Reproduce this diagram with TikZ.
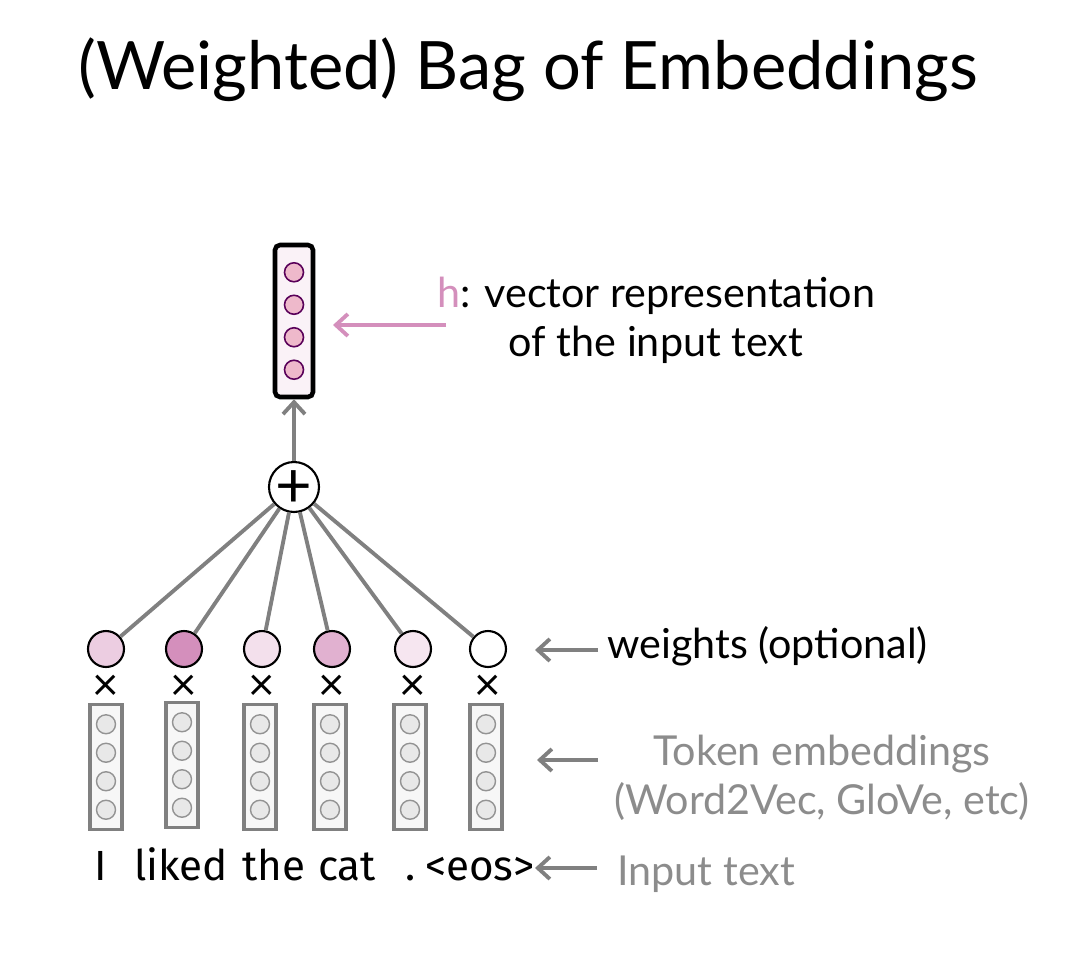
\documentclass[tikz,border=0pt]{standalone}
\usepackage{fontspec}
\setmainfont{Lato}
\newfontfamily\tokfont{Fira Sans}
\usepackage{tikz}
\usetikzlibrary{arrows.meta}
\definecolor{hpink}{HTML}{D48FBC}
\definecolor{arrgray}{HTML}{808080}
\definecolor{labgray}{HTML}{8C8C8C}

\begin{document}
\begin{tikzpicture}[x=0.02cm, y=-0.02cm,
                W/.style = {circle, draw, line width=1.2pt, minimum size=7.2mm, inner sep=0pt},
                E/.style = {rectangle, draw=arrgray, line width=2.2pt, fill=gray!6,
                            minimum width=6.4mm, minimum height=25mm, inner sep=0pt},
                C/.style = {circle, draw=gray!85, fill=gray!18, line width=0.8pt,
                            minimum size=3.8mm, inner sep=0pt},
                arr/.style = {draw=arrgray, line width=2.2pt, -{Straight Barb[length=2.4mm, width=4.4mm]}},
                lab/.style = {font=\fontsize{23.5}{28}\selectfont, inner sep=0pt}
                    ]
                \useasboundingbox (0,0) rectangle (1075,977);
                \node (title) at (528,70) {\fontsize{38}{44}\selectfont (Weighted) Bag of Embeddings};
                % sentence vector
                \node (h) [rectangle, rounded corners=1mm, draw, line width=2.6pt, fill=hpink!12,
                           minimum width=7.6mm, minimum height=30.4mm] at (294,321) {};
                \foreach \k in {-1.5,-0.5,0.5,1.5}
                    \node[circle, draw=violet!70!black, fill=hpink!50!pink!80, line width=0.9pt,
                          minimum size=3.8mm, inner sep=0pt] at ([yshift=\k*6.5mm]h) {};
                \node (plus) [W, minimum size=10mm] at (294,487) {};
                \node at ([yshift=-0.4mm]plus) {\fontsize{36}{36}\selectfont +};
                \draw[arr] (plus) -- (h);
                % weights
                \begin{scope}[nodes=W]
                \node (w1) [fill=hpink!45] at (106,649) {};
                \node (w2) [fill=hpink] at (184,649) {};
                \node (w3) [fill=hpink!28] at (262,649) {};
                \node (w4) [fill=hpink!70] at (332,649) {};
                \node (w5) [fill=hpink!22] at (413,649) {};
                \node (w6) [fill=white] at (488,649) {};
                \end{scope}
                \foreach \i in {1,...,6}
                    \draw[arrgray, line width=2.2pt] (plus) -- (w\i);
                \foreach \i in {1,...,6}
                    \node (x\i) [font=\fontsize{26}{26}\selectfont] at ([yshift=-7.8mm]w\i) {×};
                % token embeddings
                \begin{scope}[nodes=E]
                \node (e1) at (106,767) {};
                \node (e2) at (182,765) {};
                \node (e3) at (260,767) {};
                \node (e4) at (330,767) {};
                \node (e5) at (410,767) {};
                \node (e6) at (486,767) {};
                \end{scope}
                \foreach \i in {1,...,6}
                    \foreach \k in {-1.5,-0.5,0.5,1.5}
                        \node[C] at ([yshift=\k*5.7mm]e\i) {};
                % input tokens
                \begin{scope}[nodes={font=\tokfont\fontsize{24}{24}\selectfont, anchor=base}]
                \node (t1) at (101,880) {I};
                \node (t2) at (181,880) {liked};
                \node (t3) at (274,880) {the};
                \node (t4) at (347,880) {cat};
                \node (t5) at (411,880) {.};
                \node (t6) at (480,880) {<eos>};
                \end{scope}
                % labels
                \node (hl) [lab, align=center] at (656,320)
                    {\textcolor{hpink}{h}: vector representation\\of the input text};
                \node (wl) [lab, anchor=base west] at (607,658) {weights (optional)};
                \node (el) [lab, align=center, text=labgray] at (822,778)
                    {Token embeddings\\(Word2Vec, GloVe, etc)};
                \node (il) [lab, anchor=base west, text=labgray] at (617,885) {Input text};
                \coordinate (ha) at (446,325);
                \coordinate (hb) at (333,325);
                \coordinate (wa) at (598,650);
                \coordinate (wb) at (535,650);
                \coordinate (ea) at (598,760);
                \coordinate (eb) at (537,760);
                \coordinate (ia) at (597,868);
                \coordinate (ib) at (535,868);
                \draw[arr, draw=hpink] (ha) -- (hb);
                \draw[arr] (wa) -- (wb);
                \draw[arr] (ea) -- (eb);
                \draw[arr] (ia) -- (ib);
            \end{tikzpicture}
\end{document}
